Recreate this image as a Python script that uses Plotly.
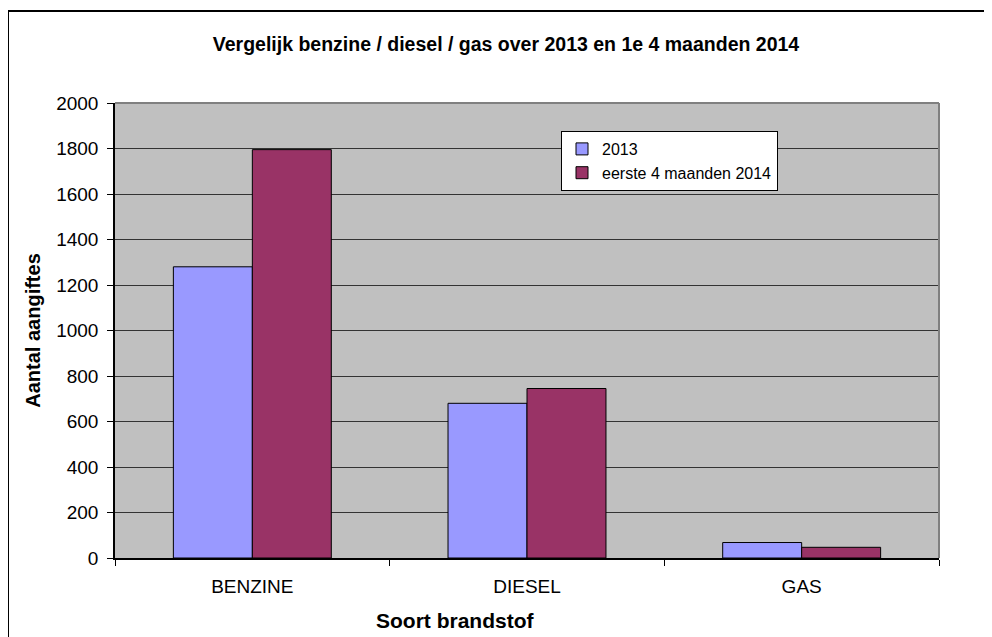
import plotly.graph_objects as go

categories = ["BENZINE", "DIESEL", "GAS"]
values_2013 = [1280, 680, 68]
values_2014 = [1795, 745, 47]
series_names = ["2013", "eerste 4 maanden 2014"]
y_ticks = [0, 200, 400, 600, 800, 1000, 1200, 1400, 1600, 1800, 2000]

FONT = "Liberation Sans, Arial, sans-serif"

# page is offset by the 8px body margin
ML, MT = 107, 95
PW, PH = 824, 455
W, H = 992, 637

fig = go.Figure()
fig.add_trace(go.Bar(x=categories, y=values_2013, name=series_names[0],
                     marker=dict(color="#9999FF", line=dict(color="#000000", width=1))))
fig.add_trace(go.Bar(x=categories, y=values_2014, name=series_names[1],
                     marker=dict(color="#993366", line=dict(color="#000000", width=1))))

fig.update_layout(
    width=W, height=H,
    margin=dict(l=ML, r=W - ML - PW, t=MT, b=H - MT - PH),
    paper_bgcolor="white", plot_bgcolor="#C0C0C0",
    barmode="group", bargap=0.425, bargroupgap=0,
    font=dict(family=FONT, color="black"),
    title=dict(text="<b>Vergelijk benzine / diesel / gas over 2013 en 1e 4 maanden 2014</b>",
               x=(506 - 8) / W, xanchor="center", y=1 - 36 / H, yanchor="middle",
               xref="container", yref="container",
               font=dict(size=19.5, family=FONT, color="black")),
    legend=dict(x=(561 - 115) / PW, y=(558 - 131) / PH, xanchor="left", yanchor="top",
                bgcolor="white", bordercolor="black", borderwidth=1,
                font=dict(size=16, family=FONT, color="black"),
                itemwidth=30, tracegroupgap=0),
    showlegend=True,
)

fig.update_xaxes(
    showline=True, linecolor="black", linewidth=1.5,
    ticks="outside", tickson="boundaries", ticklen=6, tickcolor="black",
    tickfont=dict(size=19, family=FONT), ticklabelstandoff=10,
    showgrid=False,
)
fig.update_yaxes(
    range=[0, 2000], tickvals=y_ticks,
    showline=True, linecolor="black", linewidth=1.5,
    ticks="outside", ticklen=6, tickcolor="black",
    tickfont=dict(size=19, family=FONT), ticklabelstandoff=5,
    showgrid=True, gridcolor="#333333", gridwidth=1.2,
    zeroline=False,
    title=dict(text="<b>Aantal aangiftes</b>", font=dict(size=20, family=FONT), standoff=10),
)

# x-axis title (placed slightly left of centre, as in the original)
fig.add_annotation(text="<b>Soort brandstof</b>", xref="paper", yref="paper",
                   x=(455 - 115) / PW, y=(558 - 620) / PH, xanchor="center", yanchor="middle",
                   showarrow=False, font=dict(size=21, family=FONT, color="black"))

# plot area top/right border in grey
fig.add_shape(type="line", xref="paper", yref="paper", x0=0, x1=1, y0=1, y1=1,
              line=dict(color="#808080", width=2), layer="above")
fig.add_shape(type="line", xref="paper", yref="paper", x0=1, x1=1, y0=0, y1=1,
              line=dict(color="#808080", width=2), layer="above")
# outer chart border (page coords 8..990 x, 11..bottom y)
fig.add_shape(type="rect", xref="paper", yref="paper",
              x0=(8 - 115) / PW, x1=(990 - 115) / PW,
              y0=(558 - 650) / PH, y1=(558 - 11) / PH,
              line=dict(color="black", width=2), layer="below")

fig.write_html("out.html")
